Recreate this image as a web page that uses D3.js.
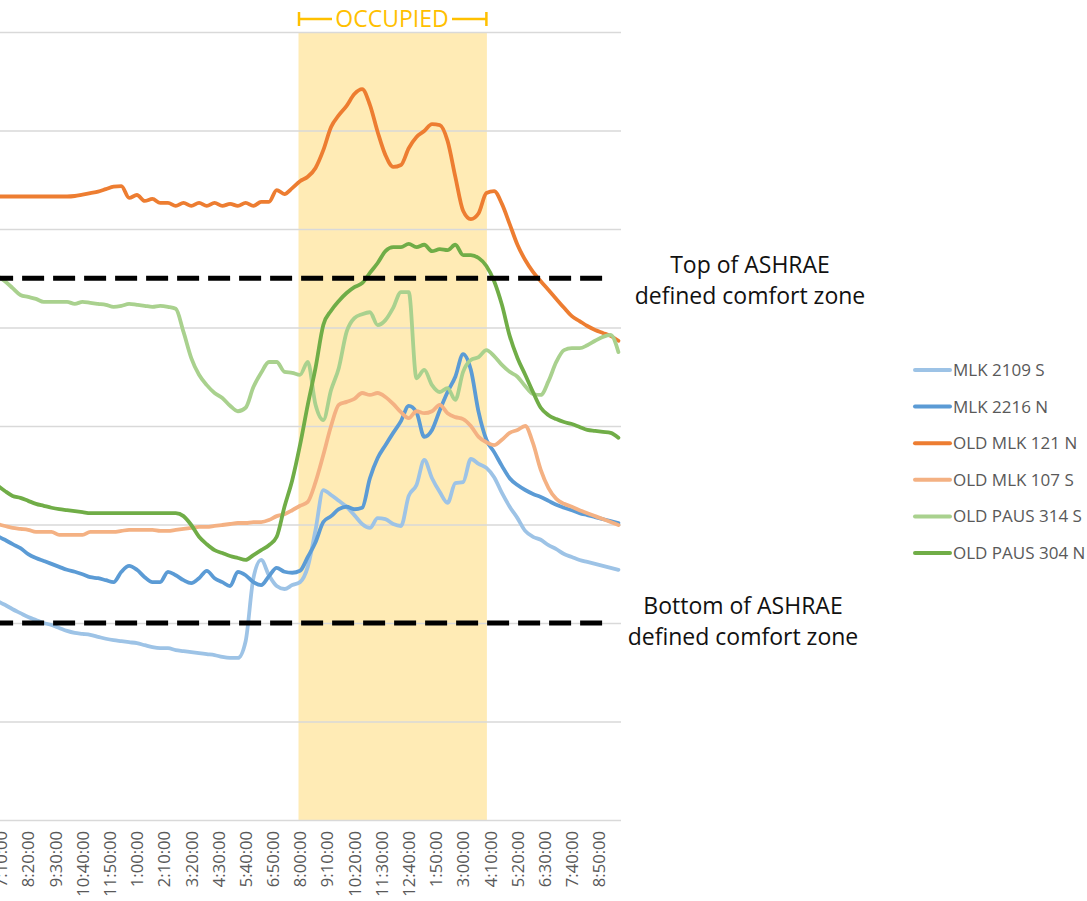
<!DOCTYPE html>
<html>
<head>
<meta charset="utf-8">
<script src="https://cdn.jsdelivr.net/npm/d3@7"></script>
<style>
  body { margin: 0; background: #fff; }
  svg { display: block; }
  .tick text { font-family: "Open Sans", sans-serif; }
</style>
</head>
<body>
<svg class="chart" width="1087" height="901"></svg>
<script>
// readings every 20 minutes, starting 7:00 PM
var startTime = new Date(2017, 0, 1, 19, 0);
var stepMinutes = 20;

var mlk2109s = [68.45, 68.37, 68.28, 68.20, 68.12, 68.06, 68.00, 67.96, 67.90, 67.84, 67.80, 67.78, 67.76, 67.72, 67.68, 67.65, 67.63, 67.61, 67.59, 67.55, 67.51, 67.49, 67.49, 67.45, 67.43, 67.41, 67.39, 67.37, 67.35, 67.31, 67.29, 67.29, 67.63, 68.91, 69.28, 68.97, 68.75, 68.69, 68.77, 68.83, 69.14, 69.89, 70.70, 70.60, 70.48, 70.36, 70.19, 70.01, 69.93, 70.13, 70.11, 70.01, 69.97, 70.58, 70.80, 71.31, 70.94, 70.66, 70.44, 70.84, 70.86, 71.33, 71.23, 71.15, 70.96, 70.64, 70.36, 70.13, 69.87, 69.75, 69.69, 69.58, 69.50, 69.40, 69.34, 69.28, 69.24, 69.20, 69.16, 69.12, 69.08];
var mlk2216n = [69.77, 69.69, 69.60, 69.52, 69.40, 69.32, 69.26, 69.20, 69.14, 69.08, 69.04, 68.99, 68.93, 68.91, 68.87, 68.83, 69.04, 69.16, 69.08, 68.93, 68.83, 68.83, 69.04, 68.97, 68.87, 68.81, 68.91, 69.06, 68.91, 68.83, 68.75, 69.04, 68.97, 68.83, 68.77, 68.95, 69.12, 69.04, 69.02, 69.06, 69.34, 69.64, 70.05, 70.17, 70.31, 70.36, 70.31, 70.34, 70.94, 71.35, 71.61, 71.86, 72.10, 72.41, 72.28, 71.78, 71.92, 72.32, 72.69, 73.00, 73.46, 73.14, 72.28, 71.72, 71.47, 71.19, 70.94, 70.80, 70.70, 70.62, 70.56, 70.48, 70.40, 70.34, 70.29, 70.23, 70.19, 70.15, 70.11, 70.07, 70.03];
var oldMlk121n = [76.66, 76.66, 76.66, 76.66, 76.66, 76.66, 76.66, 76.66, 76.66, 76.66, 76.67, 76.70, 76.73, 76.76, 76.81, 76.86, 76.87, 76.63, 76.69, 76.57, 76.61, 76.53, 76.53, 76.47, 76.53, 76.47, 76.53, 76.47, 76.53, 76.47, 76.51, 76.47, 76.53, 76.47, 76.55, 76.55, 76.79, 76.71, 76.83, 76.97, 77.06, 77.24, 77.60, 78.07, 78.31, 78.50, 78.74, 78.84, 78.52, 77.97, 77.50, 77.26, 77.30, 77.64, 77.87, 77.99, 78.13, 78.11, 77.79, 77.06, 76.37, 76.20, 76.32, 76.73, 76.77, 76.51, 76.10, 75.68, 75.37, 75.13, 74.94, 74.76, 74.58, 74.40, 74.23, 74.13, 74.03, 73.95, 73.89, 73.83, 73.73];
var oldMlk107s = [70.01, 69.97, 69.93, 69.91, 69.89, 69.85, 69.85, 69.85, 69.79, 69.79, 69.79, 69.79, 69.85, 69.85, 69.85, 69.85, 69.87, 69.89, 69.89, 69.89, 69.89, 69.87, 69.87, 69.89, 69.91, 69.93, 69.95, 69.95, 69.97, 69.99, 70.01, 70.03, 70.03, 70.05, 70.05, 70.09, 70.17, 70.21, 70.29, 70.38, 70.46, 70.86, 71.41, 72.00, 72.43, 72.49, 72.55, 72.67, 72.63, 72.67, 72.59, 72.45, 72.28, 72.16, 72.30, 72.26, 72.30, 72.43, 72.26, 72.18, 72.14, 72.00, 71.78, 71.67, 71.61, 71.72, 71.86, 71.92, 72.00, 71.65, 71.11, 70.74, 70.52, 70.42, 70.36, 70.29, 70.23, 70.17, 70.11, 70.05, 69.99];
var oldPaus314s = [75.05, 74.94, 74.80, 74.66, 74.62, 74.58, 74.52, 74.52, 74.52, 74.52, 74.48, 74.52, 74.50, 74.48, 74.46, 74.42, 74.44, 74.48, 74.46, 74.44, 74.42, 74.44, 74.42, 74.38, 73.91, 73.38, 73.04, 72.83, 72.67, 72.57, 72.41, 72.30, 72.37, 72.79, 73.08, 73.30, 73.30, 73.10, 73.08, 73.04, 73.30, 72.43, 72.12, 72.73, 73.18, 73.91, 74.19, 74.27, 74.31, 74.05, 74.15, 74.40, 74.72, 74.72, 72.97, 73.14, 72.83, 72.69, 72.77, 72.53, 73.10, 73.34, 73.40, 73.54, 73.42, 73.24, 73.10, 73.00, 72.81, 72.65, 72.63, 72.91, 73.30, 73.54, 73.58, 73.58, 73.64, 73.73, 73.81, 73.85, 73.50];
var oldPaus304n = [70.80, 70.68, 70.58, 70.54, 70.48, 70.42, 70.38, 70.34, 70.31, 70.29, 70.27, 70.25, 70.23, 70.23, 70.23, 70.23, 70.23, 70.23, 70.23, 70.23, 70.23, 70.23, 70.23, 70.23, 70.17, 69.99, 69.75, 69.60, 69.48, 69.42, 69.36, 69.32, 69.28, 69.38, 69.48, 69.58, 69.75, 70.36, 70.90, 71.61, 72.43, 73.18, 74.05, 74.34, 74.54, 74.70, 74.82, 74.90, 75.11, 75.31, 75.55, 75.63, 75.63, 75.70, 75.63, 75.68, 75.55, 75.59, 75.57, 75.68, 75.47, 75.47, 75.41, 75.25, 74.94, 74.46, 73.83, 73.38, 73.04, 72.69, 72.37, 72.22, 72.14, 72.08, 72.04, 71.98, 71.92, 71.90, 71.88, 71.86, 71.76];

var seriesNames = ["MLK 2109 S", "MLK 2216 N", "OLD MLK 121 N", "OLD MLK 107 S", "OLD PAUS 314 S", "OLD PAUS 304 N"];
var seriesColors = ["#9DC3E6", "#5B9BD5", "#ED7D31", "#F4B183", "#A9D18E", "#70AD47"];
var seriesValues = [mlk2109s, mlk2216n, oldMlk121n, oldMlk107s, oldPaus314s, oldPaus304n];

var tickLabels = ["7:10:00", "8:20:00", "9:30:00", "10:40:00", "11:50:00", "1:00:00", "2:10:00", "3:20:00", "4:30:00", "5:40:00", "6:50:00",
  "8:00:00", "9:10:00", "10:20:00", "11:30:00", "12:40:00", "1:50:00", "3:00:00", "4:10:00", "5:20:00", "6:30:00", "7:40:00", "8:50:00"];
var firstTick = new Date(2017, 0, 1, 19, 10);
var tickMinutes = 70;

var comfortTop = 75, comfortBottom = 68;
var occupiedStart = new Date(2017, 0, 2, 8, 0);
var occupiedEnd = new Date(2017, 0, 2, 16, 0);

var svg = d3.select(".chart");
var top0 = 32, bottom0 = 820, right0 = 621;

var times = mlk2109s.map(function(d, i) { return d3.timeMinute.offset(startTime, i * stepMinutes); });
var tickTimes = tickLabels.map(function(d, i) { return d3.timeMinute.offset(firstTick, i * tickMinutes); });

var x = d3.scaleTime().domain([tickTimes[0], tickTimes[tickTimes.length - 1]]).range([1, 599]);
var y = d3.scaleLinear().domain([64, 80]).range([bottom0, top0]);

// occupied band
svg.append("rect")
  .attr("x", x(occupiedStart) - 1.5)
  .attr("y", top0)
  .attr("width", x(occupiedEnd) - x(occupiedStart) + 2)
  .attr("height", bottom0 - top0)
  .attr("fill", "#FFEBB5");

// gridlines
svg.append("g").selectAll("line")
  .data(d3.range(66, 81, 2))
  .enter().append("line")
  .attr("x1", -10).attr("x2", right0)
  .attr("y1", function(d) { return y(d) + 0.5; })
  .attr("y2", function(d) { return y(d) + 0.5; })
  .attr("stroke", "#D9D9D9")
  .attr("stroke-width", 1.5);

// x axis
var xaxis = d3.axisBottom(x)
  .tickValues(tickTimes)
  .tickFormat(function(d, i) { return tickLabels[i]; })
  .tickSize(0);

var gx = svg.append("g").attr("transform", "translate(0," + bottom0 + ")").call(xaxis);
gx.select(".domain").attr("stroke", "#D9D9D9").attr("stroke-width", 1.5).attr("d", "M-10,0.5H" + right0);
gx.selectAll(".tick text")
  .attr("transform", "rotate(-90)")
  .attr("x", -11)
  .attr("y", 0)
  .attr("dy", "0.35em")
  .attr("text-anchor", "end")
  .attr("font-size", 16.6)
  .attr("fill", "#595959");

// lines
var line = d3.line()
  .x(function(d, i) { return x(times[i]); })
  .y(function(d) { return y(d); })
  .curve(d3.curveMonotoneX);

svg.append("g").selectAll("path")
  .data(seriesValues)
  .enter().append("path")
  .attr("d", line)
  .attr("fill", "none")
  .attr("stroke", function(d, i) { return seriesColors[i]; })
  .attr("stroke-width", 3.8)
  .attr("stroke-linejoin", "round")
  .attr("stroke-linecap", "round");

// comfort zone limits
svg.append("g").selectAll("line")
  .data([comfortTop, comfortBottom])
  .enter().append("line")
  .attr("x1", x(times[0])).attr("x2", x(times[times.length - 2]))
  .attr("y1", function(d) { return y(d); })
  .attr("y2", function(d) { return y(d); })
  .attr("stroke", "#000")
  .attr("stroke-width", 5)
  .attr("stroke-dasharray", "22,9")
  .attr("stroke-dashoffset", 6);

// occupied marker
var occ = svg.append("g").attr("stroke", "#FFC000").attr("stroke-width", 2.5);
occ.append("line").attr("x1", x(occupiedStart) - 1).attr("x2", x(occupiedStart) - 1).attr("y1", 12).attr("y2", 26);
occ.append("line").attr("x1", x(occupiedEnd)).attr("x2", x(occupiedEnd)).attr("y1", 12).attr("y2", 26);
occ.append("line").attr("x1", x(occupiedStart) - 1).attr("x2", 332).attr("y1", 19).attr("y2", 19);
occ.append("line").attr("x1", 452).attr("x2", x(occupiedEnd)).attr("y1", 19).attr("y2", 19);
svg.append("text")
  .attr("x", 392)
  .attr("y", 27)
  .attr("text-anchor", "middle")
  .attr("font-family", "Open Sans, sans-serif")
  .attr("font-size", 23)
  .attr("fill", "#FFC000")
  .text("OCCUPIED");

// annotations
var notes = [
  {lines: ["Top of ASHRAE", "defined comfort zone"], x: 750, y: 273},
  {lines: ["Bottom of ASHRAE", "defined comfort zone"], x: 743, y: 614}
];
notes.forEach(function(n) {
  var t = svg.append("text")
    .attr("text-anchor", "middle")
    .attr("font-family", "Open Sans, sans-serif")
    .attr("font-size", 23)
    .attr("fill", "#111");
  n.lines.forEach(function(l, i) {
    t.append("tspan").attr("x", n.x).attr("y", n.y + i * 31).text(l);
  });
});

// legend
var legend = svg.append("g").selectAll("g")
  .data(seriesNames)
  .enter().append("g")
  .attr("transform", function(d, i) { return "translate(913," + (370 + i * 36.6) + ")"; });
legend.append("line")
  .attr("x1", 2).attr("x2", 37)
  .attr("stroke", function(d, i) { return seriesColors[i]; })
  .attr("stroke-width", 4)
  .attr("stroke-linecap", "round");
legend.append("text")
  .attr("x", 40)
  .attr("dy", "0.35em")
  .attr("font-family", "Open Sans, sans-serif")
  .attr("font-size", 17)
  .attr("fill", "#595959")
  .text(function(d) { return d; });
</script>
</body>
</html>
